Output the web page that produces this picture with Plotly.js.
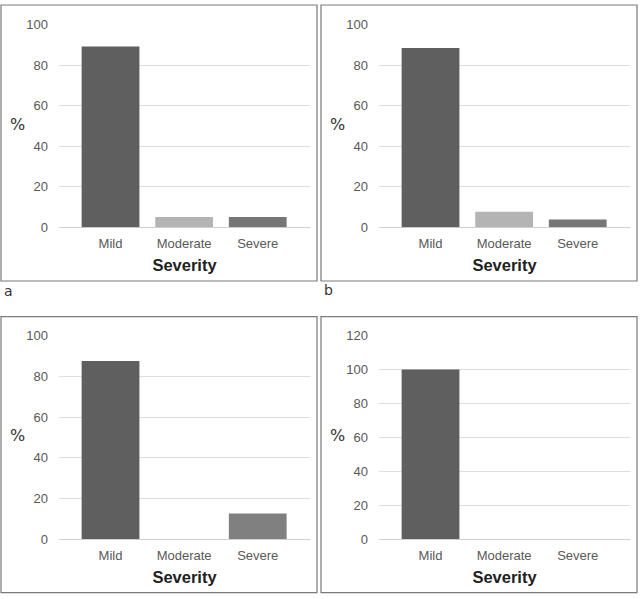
<!DOCTYPE html>
<html>
<head>
<meta charset="utf-8">
<script src="https://cdn.plot.ly/plotly-3.0.1.min.js"></script>
<style>html,body{margin:0;padding:0;background:#fff;}#chart{width:640px;height:599px;}</style>
</head>
<body>
<div id="chart"></div>
<script>
const categories = ["Mild", "Moderate", "Severe"];
const valuesA = [89.3, 5.1, 5.1];
const valuesB = [88.5, 7.7, 3.8];
const valuesC = [87.5, 0, 12.5];
const valuesD = [100, 0, 0];
const colorsA = ["#5f5f5f", "#b4b4b4", "#767676"];
const colorsB = ["#5f5f5f", "#b4b4b4", "#767676"];
const colorsC = ["#5f5f5f", "#b4b4b4", "#808080"];
const colorsD = ["#5f5f5f", "#b4b4b4", "#808080"];
const yTicksABC = [0, 20, 40, 60, 80, 100];
const yTicksD = [0, 20, 40, 60, 80, 100, 120];
const panelLetters = ["a", "b"];

const W = 640, H = 599;
const px = x => x / W;
const py = y => 1 - y / H;

function bar(vals, cols, n) {
  return {type: "bar", x: categories, y: vals, marker: {color: cols, line: {width: 0}},
    xaxis: "x" + (n === 1 ? "" : n), yaxis: "y" + (n === 1 ? "" : n), width: 0.785, hoverinfo: "none"};
}
const data = [bar(valuesA, colorsA, 1), bar(valuesB, colorsB, 2), bar(valuesC, colorsC, 3), bar(valuesD, colorsD, 4)];

const tickFont = {family: "Liberation Sans, Arial, sans-serif", size: 13, color: "#595959"};
function xax(dom, anchor) {
  return {domain: dom, anchor: anchor, range: [-0.70, 2.71], showgrid: false, zeroline: false,
    showline: false, ticks: "", tickfont: tickFont, ticklabelstandoff: 7, fixedrange: true,
    title: {text: "<b>Severity</b>", font: {family: "Liberation Sans, Arial, sans-serif", size: 16.5, color: "#222"}, standoff: 9}};
}
function yax(dom, anchor, range, tv) {
  return {domain: dom, anchor: anchor, range: range, tickvals: tv, ticktext: tv.map(String),
    showgrid: true, gridcolor: "#dedede", gridwidth: 1, zeroline: true, zerolinecolor: "#d0d0d0", zerolinewidth: 1,
    showline: false, ticks: "", tickfont: tickFont, ticklabelstandoff: 10, fixedrange: true};
}
const xL = [px(59), px(310)], xR = [px(379), px(630)];
const yT = [py(227.3), py(24.7)], yB = [py(539), py(335.7)];

const layout = {
  width: W, height: H, margin: {l: 0, r: 0, t: 0, b: 0},
  paper_bgcolor: "#ffffff", plot_bgcolor: "#ffffff", showlegend: false,
  xaxis: xax(xL, "y"), yaxis: yax(yT, "x", [0, 100], yTicksABC),
  xaxis2: xax(xR, "y2"), yaxis2: yax(yT, "x2", [0, 100], yTicksABC),
  xaxis3: xax(xL, "y3"), yaxis3: yax(yB, "x3", [0, 100], yTicksABC),
  xaxis4: xax(xR, "y4"), yaxis4: yax(yB, "x4", [0, 120], yTicksD),
  shapes: [
    [1, 5, 317, 281], [321, 5, 637, 281], [1, 316.7, 317, 592.7], [321, 316.7, 637, 592.7]
  ].map(b => ({type: "rect", xref: "paper", yref: "paper", x0: px(b[0]), x1: px(b[2]), y0: py(b[3]), y1: py(b[1]),
    line: {color: "#7a7a7a", width: 1.2}, fillcolor: "rgba(0,0,0,0)"})),
  annotations: [
    ...[[17, 124], [337, 124], [17, 435], [337, 435]].map(p => ({text: "%", xref: "paper", yref: "paper",
      x: px(p[0]), y: py(p[1]), showarrow: false, xanchor: "center", yanchor: "middle",
      font: {family: "DejaVu Sans, sans-serif", size: 16, color: "#333"}})),
    {text: panelLetters[0], xref: "paper", yref: "paper", x: px(2), y: py(291), showarrow: false, xanchor: "left", yanchor: "middle",
      font: {family: "DejaVu Sans, sans-serif", size: 14, color: "#333"}},
    {text: panelLetters[1], xref: "paper", yref: "paper", x: px(322), y: py(290), showarrow: false, xanchor: "left", yanchor: "middle",
      font: {family: "DejaVu Sans, sans-serif", size: 14, color: "#333"}}
  ]
};
Plotly.newPlot("chart", data, layout, {staticPlot: true, displayModeBar: false});
</script>
</body>
</html>
